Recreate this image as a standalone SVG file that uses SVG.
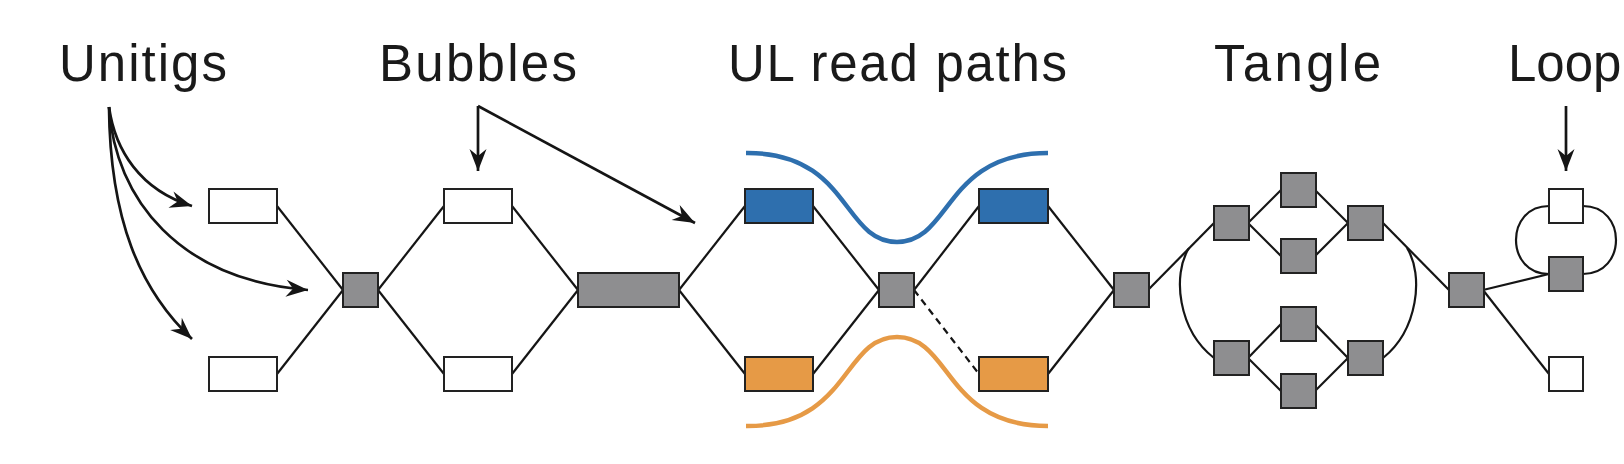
<svg xmlns="http://www.w3.org/2000/svg" width="1624" height="464" viewBox="0 0 1624 464">
  <style>
    .lbl { font-family: "Liberation Sans", Arial, sans-serif; font-size: 51px; fill: #1a1a1a; }
    .nw { fill: #ffffff; stroke: #222222; stroke-width: 2; }
    .ng { fill: #8e8e90; stroke: #222222; stroke-width: 2; }
    .nb { fill: #2e6fae; stroke: #222222; stroke-width: 2; }
    .no { fill: #e69a46; stroke: #222222; stroke-width: 2; }
    .edge { fill: none; stroke: #151515; stroke-width: 2.2; }
    .dash { fill: none; stroke: #151515; stroke-width: 2.2; stroke-dasharray: 7 5; }
    .arr { fill: none; stroke: #151515; stroke-width: 2.7; marker-end: url(#ah); }
    .readb { fill: none; stroke: #2e6fae; stroke-width: 4.5; }
    .reado { fill: none; stroke: #e69a46; stroke-width: 4.5; }
  </style>
  <defs>
    <marker id="ah" markerUnits="userSpaceOnUse" orient="auto" viewBox="-23 -10 25 20" refX="0" refY="0" markerWidth="25" markerHeight="20">
      <path d="M0,0 L-22,-8.5 L-15,0 L-22,8.5 Z" fill="#151515"/>
    </marker>
  </defs>
  <rect width="1624" height="464" fill="#ffffff"/>

  <g id="labels">
    <text class="lbl" x="59" y="81" textLength="168" lengthAdjust="spacing">Unitigs</text>
    <text class="lbl" x="379" y="81" textLength="198" lengthAdjust="spacing">Bubbles</text>
    <text class="lbl" x="728" y="81" textLength="339" lengthAdjust="spacing">UL read paths</text>
    <text class="lbl" x="1214" y="81" textLength="167" lengthAdjust="spacing">Tangle</text>
    <text class="lbl" x="1508" y="81">Loop</text>
  </g>

  <g id="connectors">
    <!-- unitigs -->
    <line class="edge" x1="277" y1="206" x2="343" y2="290"/>
    <line class="edge" x1="277" y1="374" x2="343" y2="290"/>
    <!-- bubble -->
    <line class="edge" x1="378" y1="290" x2="444" y2="206"/>
    <line class="edge" x1="378" y1="290" x2="444" y2="374"/>
    <line class="edge" x1="512" y1="206" x2="578" y2="290"/>
    <line class="edge" x1="512" y1="374" x2="578" y2="290"/>
    <!-- UL read paths -->
    <line class="edge" x1="679" y1="290" x2="745" y2="206"/>
    <line class="edge" x1="679" y1="290" x2="745" y2="374"/>
    <line class="edge" x1="813" y1="206" x2="879" y2="290"/>
    <line class="edge" x1="813" y1="374" x2="879" y2="290"/>
    <line class="edge" x1="914" y1="290" x2="979" y2="206"/>
    <line class="dash" x1="914" y1="290" x2="979" y2="374"/>
    <line class="edge" x1="1048" y1="206" x2="1114" y2="290"/>
    <line class="edge" x1="1048" y1="374" x2="1114" y2="290"/>
    <!-- tangle -->
    <line class="edge" x1="1148" y1="290" x2="1214" y2="223"/>
    <line class="edge" x1="1248" y1="223" x2="1281" y2="190"/>
    <line class="edge" x1="1248" y1="223" x2="1281" y2="256"/>
    <line class="edge" x1="1315" y1="190" x2="1348" y2="223"/>
    <line class="edge" x1="1315" y1="256" x2="1348" y2="223"/>
    <line class="edge" x1="1248" y1="358" x2="1281" y2="324"/>
    <line class="edge" x1="1248" y1="358" x2="1281" y2="391"/>
    <line class="edge" x1="1315" y1="324" x2="1348" y2="358"/>
    <line class="edge" x1="1315" y1="391" x2="1348" y2="358"/>
    <path class="edge" d="M1189,248 C1172,275 1178,330 1214,358"/>
    <path class="edge" d="M1407,248 C1424,275 1418,330 1383,358"/>
    <line class="edge" x1="1383" y1="223" x2="1449" y2="290"/>
    <!-- loop -->
    <line class="edge" x1="1483" y1="290" x2="1549" y2="274"/>
    <line class="edge" x1="1483" y1="290" x2="1549" y2="374"/>
    <path class="edge" d="M1549,206 C1505,206 1505,274 1549,274"/>
    <path class="edge" d="M1583,206 C1627,206 1627,274 1583,274"/>
    <!-- read paths -->
    <path class="readb" d="M746,153 C850,152 842,242 897,242 C952,242 944,153 1048,153"/>
    <path class="reado" d="M746,426 C850,427 842,337 897,337 C952,337 944,426 1048,426"/>
    <!-- label arrows -->
    <path class="arr" d="M109,107 C115,150 140,190 192,206"/>
    <path class="arr" d="M109,107 C115,200 180,280 308,290"/>
    <path class="arr" d="M109,107 C110,220 140,290 192,339"/>
    <path class="arr" d="M478,106 L478,171"/>
    <path class="arr" d="M478,106 L695,223"/>
    <path class="arr" d="M1566,106 L1566,171"/>
  </g>

  <g id="unitig-top"><rect class="nw" x="209" y="189" width="68" height="34"/></g>
  <g id="unitig-bottom"><rect class="nw" x="209" y="357" width="68" height="34"/></g>
  <g id="node-1"><rect class="ng" x="343" y="273" width="35" height="34"/></g>
  <g id="bubble-top"><rect class="nw" x="444" y="189" width="68" height="34"/></g>
  <g id="bubble-bottom"><rect class="nw" x="444" y="357" width="68" height="34"/></g>
  <g id="node-long"><rect class="ng" x="578" y="273" width="101" height="34"/></g>
  <g id="blue-1"><rect class="nb" x="745" y="189" width="68" height="34"/></g>
  <g id="orange-1"><rect class="no" x="745" y="357" width="68" height="34"/></g>
  <g id="node-2"><rect class="ng" x="879" y="273" width="35" height="34"/></g>
  <g id="blue-2"><rect class="nb" x="979" y="189" width="69" height="34"/></g>
  <g id="orange-2"><rect class="no" x="979" y="357" width="69" height="34"/></g>
  <g id="node-3"><rect class="ng" x="1114" y="273" width="35" height="34"/></g>
  <g id="tangle-a"><rect class="ng" x="1214" y="206" width="35" height="34"/></g>
  <g id="tangle-b"><rect class="ng" x="1281" y="173" width="35" height="34"/></g>
  <g id="tangle-c"><rect class="ng" x="1281" y="239" width="35" height="34"/></g>
  <g id="tangle-d"><rect class="ng" x="1348" y="206" width="35" height="34"/></g>
  <g id="tangle-e"><rect class="ng" x="1214" y="341" width="35" height="34"/></g>
  <g id="tangle-f"><rect class="ng" x="1281" y="307" width="35" height="34"/></g>
  <g id="tangle-g"><rect class="ng" x="1281" y="374" width="35" height="34"/></g>
  <g id="tangle-h"><rect class="ng" x="1348" y="341" width="35" height="34"/></g>
  <g id="node-4"><rect class="ng" x="1449" y="273" width="35" height="34"/></g>
  <g id="loop-top"><rect class="nw" x="1549" y="189" width="34" height="34"/></g>
  <g id="loop-node"><rect class="ng" x="1549" y="257" width="34" height="34"/></g>
  <g id="loop-bottom"><rect class="nw" x="1549" y="357" width="34" height="34"/></g>
</svg>
